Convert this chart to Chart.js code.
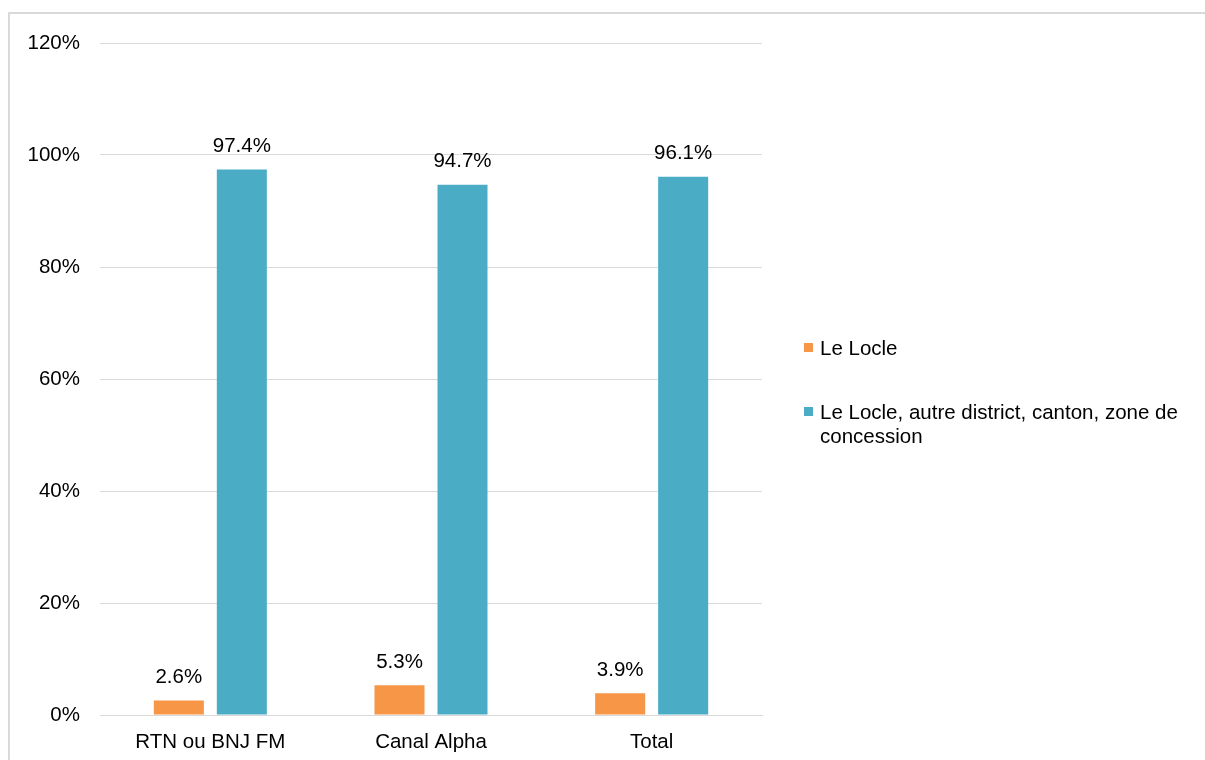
<!DOCTYPE html>
<html>
<head>
<meta charset="utf-8">
<script src="https://cdn.jsdelivr.net/npm/chart.js@4"></script>
<style>
  body { margin: 0; background: #fff; font-family: "Liberation Sans", Arial, sans-serif; }
  #wrap { position: relative; width: 1205px; height: 760px; overflow: hidden; }
  #cadre { position: absolute; left: 8px; top: 12px; width: 1300px; height: 900px; border: 2px solid #d9d9d9; box-sizing: border-box; }
  canvas { position: absolute; left: 0; top: 0; }
  #legende { position: absolute; left: 804px; top: 336px; width: 398px; font-size: 20.5px; color: #000; line-height: 24px; }
  .item { position: relative; padding-left: 16px; margin-bottom: 40px; }
  .item span.carre { position: absolute; left: 0; top: 7px; width: 9px; height: 9px; }
</style>
</head>
<body>
<div id="wrap">
  <div id="cadre"></div>
  <canvas id="graphique" width="1205" height="760"></canvas>
  <div id="legende"></div>
</div>
<script>
// données
const categories = ['RTN ou BNJ FM', 'Canal Alpha', 'Total'];
const leLocle = [2.6, 5.3, 3.9];
const autresZones = [97.4, 94.7, 96.1];
const series = ['Le Locle', 'Le Locle, autre district, canton, zone de concession'];
const couleurs = ['#F79646', '#4BACC6'];

const police = '"Liberation Sans", Arial, sans-serif';

// étiquettes au-dessus des barres
const etiquettes = {
    id: 'etiquettes',
    afterDatasetsDraw(chart) {
        const ctx = chart.ctx;
        ctx.save();
        ctx.font = '20.5px ' + police;
        ctx.fillStyle = '#000';
        ctx.textAlign = 'center';
        ctx.textBaseline = 'middle';
        chart.data.datasets.forEach((ds, i) => {
            chart.getDatasetMeta(i).data.forEach((bar, j) => {
                ctx.fillText(ds.data[j].toFixed(1) + '%', bar.x, bar.y - 23);
            });
        });
        ctx.restore();
    }
};

const ctx = document.getElementById('graphique').getContext('2d');
const chart = new Chart(ctx, {
    type: 'bar',
    data: {
        labels: categories,
        datasets: [{
            label: series[0],
            data: leLocle,
            backgroundColor: couleurs[0]
        }, {
            label: series[1],
            data: autresZones,
            backgroundColor: couleurs[1]
        }]
    },
    options: {
        responsive: false,
        animation: false,
        categoryPercentage: 0.571,
        barPercentage: 0.794,
        layout: { padding: { left: 0, right: 443, top: 43, bottom: 0 } },
        plugins: {
            legend: { display: false },
            tooltip: { enabled: false }
        },
        scales: {
            x: {
                grid: { display: false },
                border: { color: '#d9d9d9', width: 1 },
                ticks: {
                    color: '#000',
                    font: { size: 20.5, family: police },
                    padding: 7
                },
                afterFit(scale) { scale.height = 45; }
            },
            y: {
                min: 0,
                max: 120,
                ticks: {
                    stepSize: 20,
                    color: '#000',
                    padding: 20,
                    font: { size: 20.5, family: police },
                    callback: v => v + '%'
                },
                grid: { color: '#d9d9d9', drawTicks: false },
                border: { display: false },
                afterFit(scale) { scale.width = 100; }
            }
        }
    },
    plugins: [etiquettes]
});

// légende HTML (le texte long passe à la ligne)
const legende = document.getElementById('legende');
chart.data.datasets.forEach(ds => {
    const item = document.createElement('div');
    item.className = 'item';
    const carre = document.createElement('span');
    carre.className = 'carre';
    carre.style.background = ds.backgroundColor;
    item.appendChild(carre);
    item.appendChild(document.createTextNode(ds.label));
    legende.appendChild(item);
});
</script>
</body>
</html>
